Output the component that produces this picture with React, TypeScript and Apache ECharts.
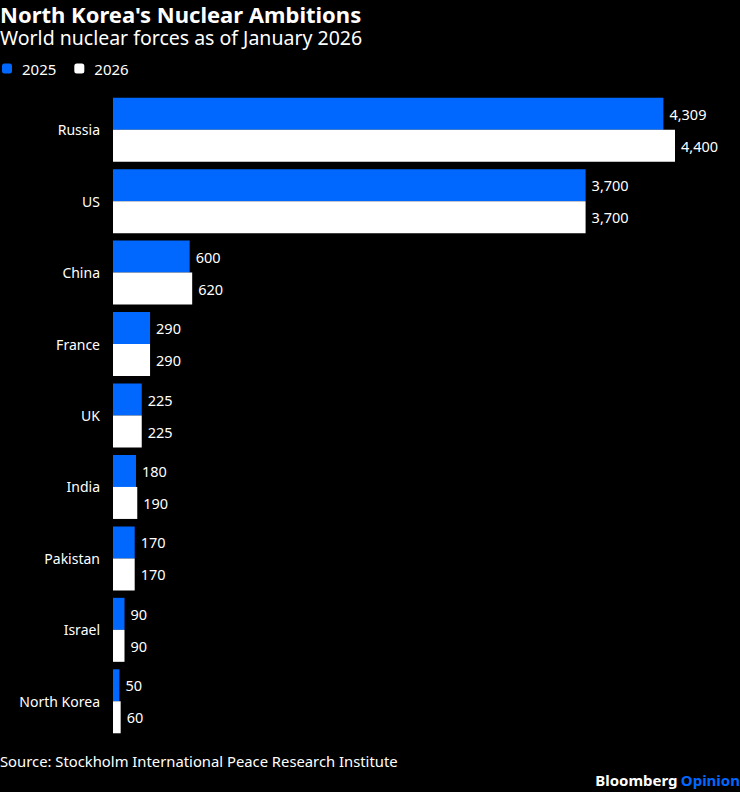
import React, { useEffect, useRef } from "react";
import * as echarts from "echarts";

const countries = ["Russia", "US", "China", "France", "UK", "India", "Pakistan", "Israel", "North Korea"];
const warheads2025 = [4309, 3700, 600, 290, 225, 180, 170, 90, 50];
const warheads2026 = [4400, 3700, 620, 290, 225, 190, 170, 90, 60];
const seriesNames = ["2025", "2026"];

const BLUE = "#0068ff";
const FONT = "'Noto Sans', sans-serif";

export default function App() {
  const ref = useRef<HTMLDivElement>(null);

  useEffect(() => {
    document.body.style.margin = "0";
    document.body.style.background = "#000";
    if (!ref.current) return;
    const chart = echarts.init(ref.current, null, { renderer: "svg" });

    const valueLabel = {
      show: true,
      position: "right" as const,
      distance: 6,
      color: "#fff",
      fontSize: 14.5,
      fontFamily: FONT,
      formatter: (p: any) => Number(p.value).toLocaleString("en-US"),
    };

    chart.setOption({
      animation: false,
      backgroundColor: "#000",
      textStyle: { fontFamily: FONT },
      title: [
        {
          text: "North Korea's Nuclear Ambitions",
          left: 0,
          top: 3,
          padding: 0,
          textStyle: { color: "#fff", fontSize: 22, fontWeight: "bold", fontFamily: FONT, lineHeight: 22 },
        },
        {
          text: "World nuclear forces as of January 2026",
          left: 0,
          top: 27,
          padding: 0,
          textStyle: { color: "#fff", fontSize: 19.5, fontWeight: "normal", fontFamily: FONT, lineHeight: 20 },
        },
      ],
      legend: {
        data: seriesNames,
        left: 2,
        top: 61,
        padding: 0,
        icon: "roundRect",
        itemWidth: 10,
        itemHeight: 10,
        itemGap: 18,
        textStyle: { color: "#fff", fontSize: 15, fontFamily: FONT, padding: [0, 0, 0, 5] },
      },
      grid: { left: 113, right: 65, top: 94, height: 643 },
      xAxis: {
        type: "value",
        min: 0,
        max: 4400,
        show: false,
      },
      yAxis: {
        type: "category",
        data: countries,
        inverse: true,
        axisLine: { show: false },
        axisTick: { show: false },
        axisLabel: { color: "#fff", fontSize: 14, margin: 13, fontFamily: FONT },
      },
      series: [
        {
          name: seriesNames[0],
          type: "bar",
          data: warheads2025,
          barWidth: 32,
          barGap: "0%",
          itemStyle: { color: BLUE },
          label: valueLabel,
        },
        {
          name: seriesNames[1],
          type: "bar",
          data: warheads2026,
          barWidth: 32,
          barGap: "0%",
          itemStyle: { color: "#fff" },
          label: valueLabel,
        },
      ],
      graphic: [
        {
          type: "text",
          left: 0,
          top: 753,
          style: {
            text: "Source: Stockholm International Peace Research Institute",
            fill: "#fff",
            fontSize: 14.8,
            fontFamily: FONT,
          },
        },
        {
          type: "text",
          right: 0,
          top: 772,
          style: {
            text: "{b|Bloomberg} {o|Opinion}",
            rich: {
              b: { fill: "#fff", fontSize: 15, fontWeight: "bold", fontFamily: FONT },
              o: { fill: BLUE, fontSize: 15, fontWeight: "bold", fontFamily: FONT },
            },
          },
        },
      ],
    });

    return () => chart.dispose();
  }, []);

  return <div ref={ref} style={{ width: 740, height: 792 }} />;
}
